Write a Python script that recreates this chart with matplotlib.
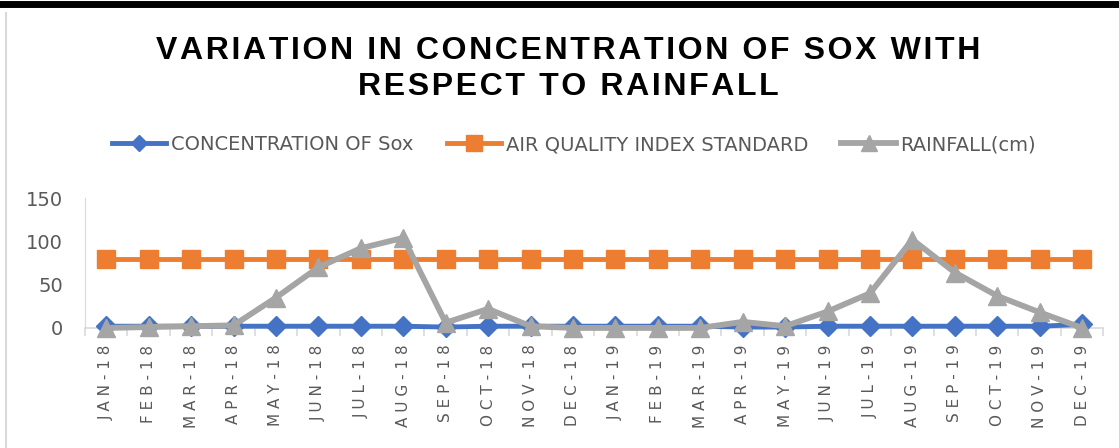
import matplotlib.pyplot as plt
import numpy as np

months = ["JAN-18", "FEB-18", "MAR-18", "APR-18", "MAY-18", "JUN-18", "JUL-18", "AUG-18",
          "SEP-18", "OCT-18", "NOV-18", "DEC-18", "JAN-19", "FEB-19", "MAR-19", "APR-19",
          "MAY-19", "JUN-19", "JUL-19", "AUG-19", "SEP-19", "OCT-19", "NOV-19", "DEC-19"]
sox = [2, 2, 2, 2, 2, 2, 2, 2, 1, 2, 2, 2, 2, 2, 2, 1, 1, 2, 2, 2, 2, 2, 2, 4]
aqi = [80] * 24
rain = [0, 1, 2, 3, 35, 70, 92, 104, 6, 22, 2, 0, 0, 0, 0, 7, 2, 19, 40, 102, 64, 37, 18, 0]

title_lines = ["VARIATION IN CONCENTRATION OF SOX WITH", "RESPECT TO RAINFALL"]

txt = "#595959"
fig = plt.figure(figsize=(11.19, 4.48), dpi=100)
ax = fig.add_axes([0.076, 0.268, 0.910, 0.290])

x = np.arange(len(months))
ax.plot(x, sox, color="#4472C4", lw=3.5, marker="D", ms=10, clip_on=False, zorder=3,
        label="CONCENTRATION OF Sox")
ax.plot(x, aqi, color="#ED7D31", lw=3.5, marker="s", ms=13, clip_on=False, zorder=2,
        label="AIR QUALITY INDEX STANDARD")
ax.plot(x, rain, color="#A5A5A5", lw=4.2, marker="^", ms=13, clip_on=False, zorder=4,
        label="RAINFALL(cm)")

ax.set_xlim(-0.5, len(months) - 0.5)
ax.set_ylim(0, 150)
ax.set_yticks([0, 50, 100, 150])
ax.tick_params(axis="y", length=0, labelsize=14, labelcolor=txt, pad=16)
ax.set_xticks(x)
ax.set_xticklabels([" ".join(m) for m in months], rotation=90, fontsize=11, color=txt)
ax.tick_params(axis="x", length=0, pad=12)
# small tick marks between categories
ax.set_xticks(np.arange(-0.5, len(months)), minor=True)
ax.tick_params(axis="x", which="minor", length=6, color="#d9d9d9", width=1.2)

for s in ["top", "right"]:
    ax.spines[s].set_visible(False)
ax.spines["left"].set_color("#d9d9d9")
ax.spines["bottom"].set_color("#d9d9d9")
ax.spines["bottom"].set_linewidth(1.2)

# title is letter-spaced in the original
title = "\n".join("\u200a".join(line) for line in title_lines)
fig.text(0.508, 0.846, title, ha="center", va="center", fontsize=23, fontweight="bold",
         family=["Liberation Sans", "DejaVu Sans"], linespacing=1.25)

fig.legend(loc="center", bbox_to_anchor=(0.513, 0.677), ncol=3, frameon=False,
           fontsize=14, labelcolor=txt, handlelength=2.8, columnspacing=1.7, handletextpad=0.25,
           markerscale=0.85)

# frame bits of the original screenshot
fig.add_artist(plt.Line2D([0, 1], [0.99, 0.99], color="black", lw=5, transform=fig.transFigure))
fig.add_artist(plt.Line2D([0.005, 0.005], [0, 0.97], color="#d9d9d9", lw=1.5, transform=fig.transFigure))

plt.savefig("out.png", dpi=100)
